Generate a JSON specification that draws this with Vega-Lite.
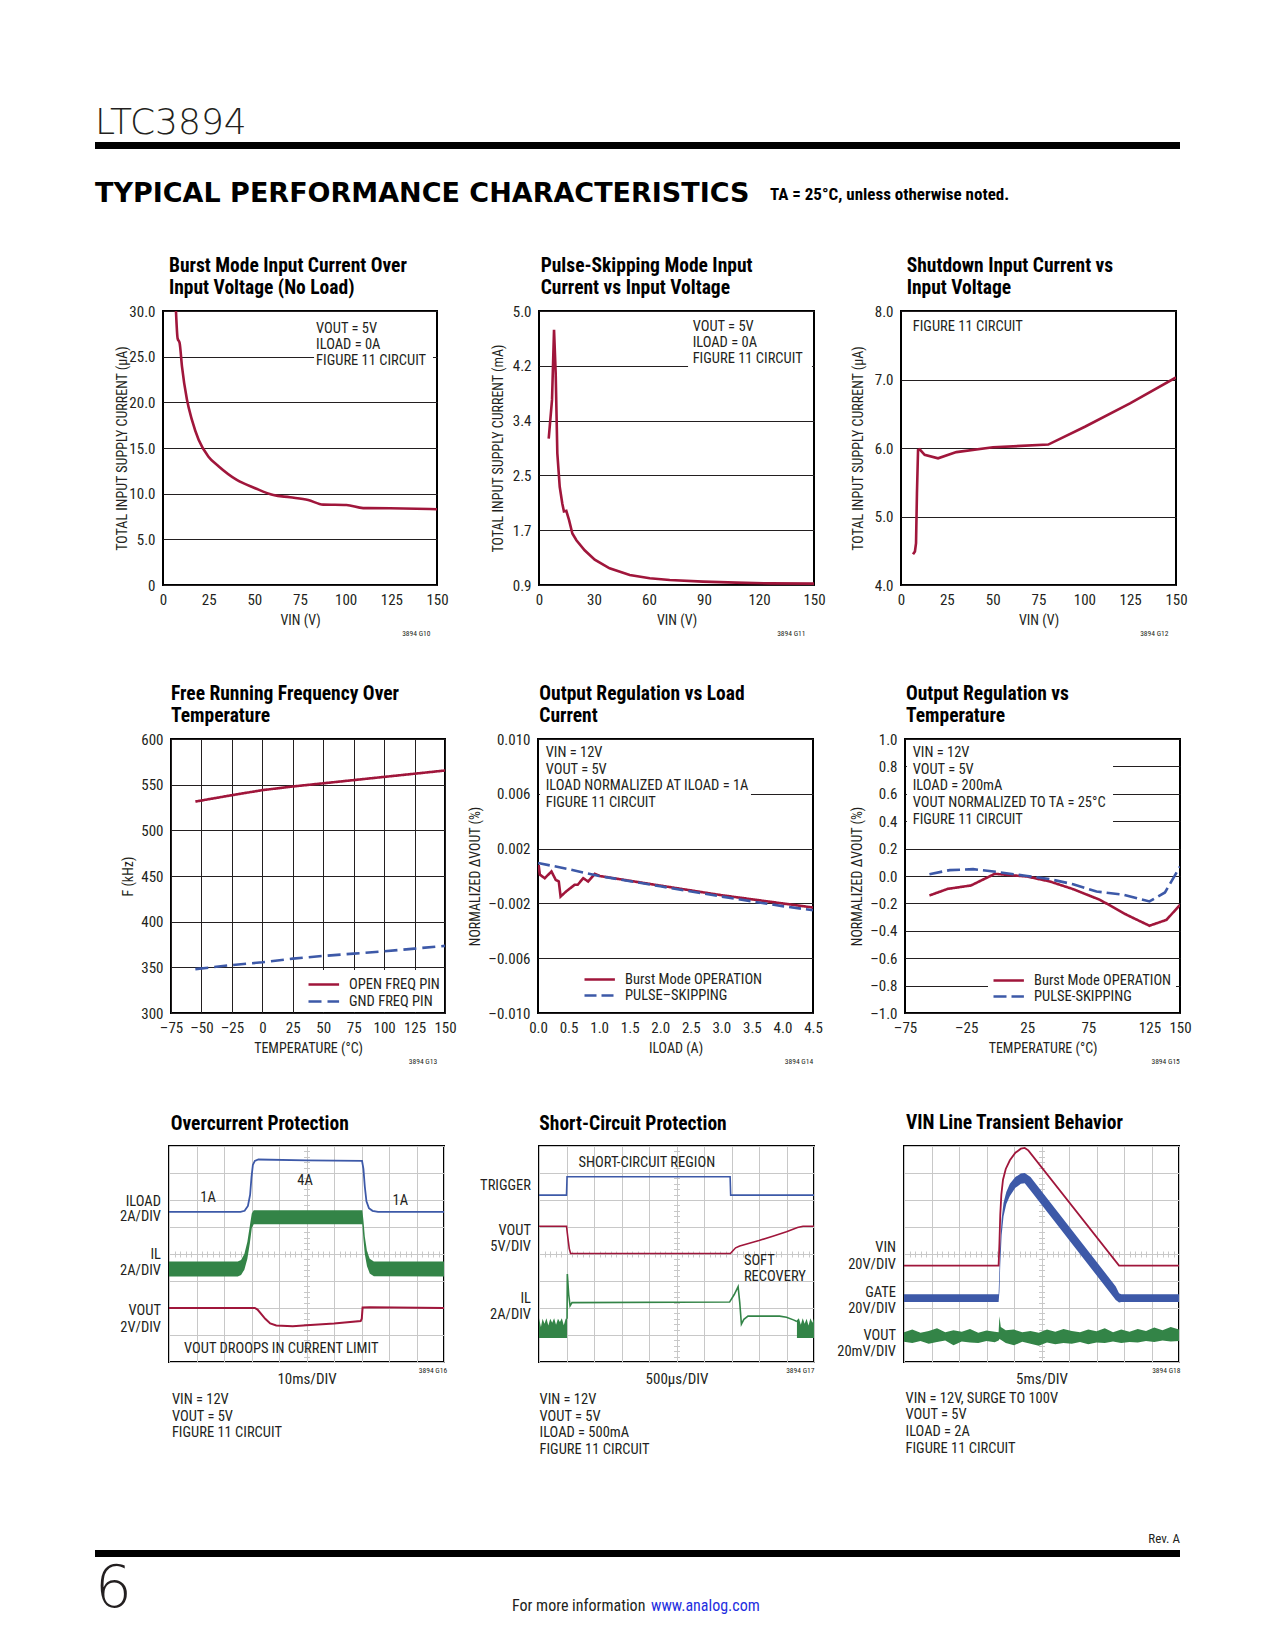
{
"$schema": "https://vega.github.io/schema/vega-lite/v6.json",
"background": "white",
"padding": {"left": 95, "top": 0, "right": 0, "bottom": 0},
"spacing": 0,
"bounds": "flush",
"resolve": {"scale": {"color": "independent", "strokeDash": "independent"}, "legend": {"color": "independent", "strokeDash": "independent"}},
"config": {
  "font": "'Liberation Sans Narrow', 'Roboto Condensed', 'DejaVu Sans Condensed', 'Liberation Sans', sans-serif",
  "view": {"stroke": "#000000", "strokeWidth": 2},
  "axis": {"labelFont": "'Liberation Sans Narrow', 'Roboto Condensed', 'DejaVu Sans Condensed', 'Liberation Sans', sans-serif", "labelFontSize": 15, "labelColor": "#231f20", "titleFont": "'Liberation Sans Narrow', 'Roboto Condensed', 'DejaVu Sans Condensed', 'Liberation Sans', sans-serif", "titleFontSize": 14, "titleFontWeight": "normal", "titleColor": "#231f20", "grid": true, "gridColor": "#231f20", "gridWidth": 1, "gridOpacity": 1, "domain": false, "ticks": false, "tickSize": 0, "labelFlush": false, "labelOverlap": false, "labelPadding": 8},
  "title": {"font": "'Liberation Sans Narrow', 'Roboto Condensed', 'DejaVu Sans Condensed', 'Liberation Sans', sans-serif", "fontSize": 19.5, "fontWeight": "bold", "color": "#000000", "anchor": "start", "frame": "group", "lineHeight": 22, "offset": 6},
  "text": {"font": "'Liberation Sans Narrow', 'Roboto Condensed', 'DejaVu Sans Condensed', 'Liberation Sans', sans-serif", "fontSize": 14.5, "color": "#231f20"},
  "legend": {"labelFont": "'Liberation Sans Narrow', 'Roboto Condensed', 'DejaVu Sans Condensed', 'Liberation Sans', sans-serif", "labelFontSize": 14.5, "labelColor": "#231f20"}
},
"vconcat": [
  {"width": 1, "height": 142, "data": {"values": []}, "mark": "text", "encoding": {}, "view": {"stroke": null}},
  {"width": 1085, "height": 7, "data": {"values": []}, "mark": "text", "encoding": {}, "view": {"fill": "#000000", "stroke": null},
   "title": {"text": "LTC3894", "font": "DejaVu Sans", "fontSize": 36, "fontWeight": 200, "offset": 0, "color": "#231f20"}},
  {"width": 1, "height": 59, "data": {"values": []}, "mark": "text", "encoding": {}, "view": {"stroke": null}},
  {"hconcat": [
    {"width": 675, "height": 1, "data": {"values": []}, "mark": "text", "encoding": {}, "view": {"stroke": null},
     "title": {"text": "TYPICAL PERFORMANCE CHARACTERISTICS", "font": "DejaVu Sans", "fontSize": 27, "fontWeight": "bold", "offset": 0, "color": "#000000"}},
    {"width": 300, "height": 1, "data": {"values": []}, "mark": "text", "encoding": {}, "view": {"stroke": null},
     "title": {"text": "TA = 25°C, unless otherwise noted.", "fontSize": 17, "fontWeight": "bold", "offset": 4, "color": "#000000"}}
  ], "spacing": 0, "bounds": "flush"},
  {"width": 1, "height": 103, "data": {"values": []}, "mark": "text", "encoding": {}, "view": {"stroke": null}},
  {"hconcat": [
    {"width": 68, "height": 1, "data": {"values": []}, "mark": "text", "encoding": {}, "view": {"stroke": null}},
    {"width": 274, "height": 274,
     "title": {"text": ["Burst Mode Input Current Over", "Input Voltage (No Load)"], "dx": 6},
     "resolve": {"axis": {"x": "independent"}},
     "layer": [
      {"data": {"values": [{}]}, "mark": {"type": "rect", "fill": "#ffffff"},
       "encoding": {"x": {"datum": 82.7, "type": "quantitative", "scale": {"domain": [0, 150], "nice": false, "zero": false}, "axis": null}, "x2": {"datum": 147.8},
                    "y": {"datum": 29.84, "type": "quantitative", "scale": {"domain": [0, 30], "nice": false, "zero": false}}, "y2": {"datum": 23.2}}},
      {"data": {"values": [
        {"v": 7.1, "i": 30}, {"v": 8.0, "i": 27.0}, {"v": 9.1, "i": 26.5}, {"v": 10.4, "i": 23.9}, {"v": 13.1, "i": 20.3}, {"v": 15.8, "i": 18.1}, {"v": 19.5, "i": 15.9}, {"v": 24.9, "i": 14.05}, {"v": 30.4, "i": 13.0}, {"v": 40.4, "i": 11.5}, {"v": 50.4, "i": 10.6}, {"v": 60.4, "i": 9.85}, {"v": 69.5, "i": 9.6}, {"v": 79.5, "i": 9.3}, {"v": 87.7, "i": 8.8}, {"v": 100.4, "i": 8.76}, {"v": 109.6, "i": 8.42}, {"v": 124.2, "i": 8.4}, {"v": 150, "i": 8.3}]},
       "mark": {"type": "line", "color": "#a0163b", "strokeWidth": 2.6, "interpolate": "monotone", "clip": true},
       "encoding": {
        "x": {"field": "v", "type": "quantitative", "scale": {"domain": [0, 150], "nice": false, "zero": false}, "axis": {"orient": "bottom", "values": [0, 25, 50, 75, 100, 125, 150], "title": "VIN (V)", "titleY": 35, "titleBaseline": "middle", "labelPadding": 7}},
        "y": {"field": "i", "type": "quantitative", "scale": {"domain": [0, 30], "nice": false, "zero": false}, "axis": {"values": [0, 5, 10, 15, 20, 25, 30], "tickCount": 50, "labelExpr": "datum.value == 0 ? '0' : format(datum.value, '.1f')", "title": "TOTAL INPUT SUPPLY CURRENT (µA)", "titleX": -41, "titleBaseline": "middle"}}}},
      {"data": {"values": [{}]}, "mark": {"type": "text", "align": "left", "baseline": "top", "lineHeight": 16},
       "encoding": {"x": {"datum": 83.8, "type": "quantitative", "scale": {"domain": [0, 150], "nice": false, "zero": false}, "axis": {"orient": "bottom", "grid": false, "labels": false, "ticks": false, "domain": false, "title": "3894 G10", "titleX": 267, "titleY": 48, "titleAlign": "right", "titleBaseline": "middle", "titleFontSize": 7.5}},
                    "y": {"datum": 28.8, "type": "quantitative", "scale": {"domain": [0, 30], "nice": false, "zero": false}},
                    "text": {"value": ["VOUT = 5V", "ILOAD = 0A", "FIGURE 11 CIRCUIT"]}}}
     ]},
    {"width": 102, "height": 1, "data": {"values": []}, "mark": "text", "encoding": {}, "view": {"stroke": null}},
    {"width": 275, "height": 274,
     "title": {"text": ["Pulse-Skipping Mode Input", "Current vs Input Voltage"], "dx": 1.7},
     "resolve": {"axis": {"x": "independent"}},
     "layer": [
      {"data": {"values": [{}]}, "mark": {"type": "rect", "fill": "#ffffff"},
       "encoding": {"x": {"datum": 81.3, "type": "quantitative", "scale": {"domain": [0, 150], "nice": false, "zero": false}, "axis": null}, "x2": {"datum": 148.9},
                    "y": {"datum": 4.978, "type": "quantitative", "scale": {"domain": [0.9, 5], "nice": false, "zero": false}}, "y2": {"datum": 4.107}}},
      {"data": {"values": [
        {"v": 5.3, "i": 3.09}, {"v": 7.1, "i": 3.67}, {"v": 8.2, "i": 4.72}, {"v": 9.1, "i": 4.07}, {"v": 10.0, "i": 2.87}, {"v": 11.3, "i": 2.37}, {"v": 12.7, "i": 2.12}, {"v": 13.6, "i": 2.0}, {"v": 14.9, "i": 2.01}, {"v": 16.4, "i": 1.87}, {"v": 18.2, "i": 1.67}, {"v": 20.4, "i": 1.57}, {"v": 24.9, "i": 1.42}, {"v": 30.4, "i": 1.28}, {"v": 38.5, "i": 1.15}, {"v": 49.5, "i": 1.05}, {"v": 60.4, "i": 1.0}, {"v": 71.3, "i": 0.975}, {"v": 89.5, "i": 0.95}, {"v": 107.6, "i": 0.935}, {"v": 125.8, "i": 0.925}, {"v": 150, "i": 0.92}]},
       "mark": {"type": "line", "color": "#a0163b", "strokeWidth": 2.6, "clip": true},
       "encoding": {
        "x": {"field": "v", "type": "quantitative", "scale": {"domain": [0, 150], "nice": false, "zero": false}, "axis": {"orient": "bottom", "values": [0, 30, 60, 90, 120, 150], "title": "VIN (V)", "titleY": 35, "titleBaseline": "middle", "labelPadding": 7}},
        "y": {"field": "i", "type": "quantitative", "scale": {"domain": [0.9, 5], "nice": false, "zero": false}, "axis": {"values": [0.9, 1.72, 2.54, 3.36, 4.18, 5.0], "tickCount": 50, "labelExpr": "format(datum.value, '.1f')", "title": "TOTAL INPUT SUPPLY CURRENT (mA)", "titleX": -41, "titleBaseline": "middle"}}}},
      {"data": {"values": [{}]}, "mark": {"type": "text", "align": "left", "baseline": "top", "lineHeight": 16},
       "encoding": {"x": {"datum": 83.8, "type": "quantitative", "scale": {"domain": [0, 150], "nice": false, "zero": false}, "axis": {"orient": "bottom", "grid": false, "labels": false, "ticks": false, "domain": false, "title": "3894 G11", "titleX": 266, "titleY": 48, "titleAlign": "right", "titleBaseline": "middle", "titleFontSize": 7.5}},
                    "y": {"datum": 4.865, "type": "quantitative", "scale": {"domain": [0.9, 5], "nice": false, "zero": false}},
                    "text": {"value": ["VOUT = 5V", "ILOAD = 0A", "FIGURE 11 CIRCUIT"]}}}
     ]},
    {"width": 87, "height": 1, "data": {"values": []}, "mark": "text", "encoding": {}, "view": {"stroke": null}},
    {"width": 275, "height": 274,
     "title": {"text": ["Shutdown Input Current vs", "Input Voltage"], "dx": 5.7},
     "resolve": {"axis": {"x": "independent"}},
     "layer": [
      {"data": {"values": [{}]}, "mark": {"type": "rect", "fill": "#ffffff"},
       "encoding": {"x": {"datum": 1.1, "type": "quantitative", "scale": {"domain": [0, 150], "nice": false, "zero": false}, "axis": null}, "x2": {"datum": 72},
                    "y": {"datum": 7.978, "type": "quantitative", "scale": {"domain": [4, 8], "nice": false, "zero": false}}, "y2": {"datum": 7.562}}},
      {"data": {"values": [
        {"v": 6.55, "i": 4.45}, {"v": 7.6, "i": 4.49}, {"v": 8.2, "i": 4.61}, {"v": 8.7, "i": 5.34}, {"v": 9.3, "i": 5.97}, {"v": 10.2, "i": 5.98}, {"v": 12.9, "i": 5.9}, {"v": 20.2, "i": 5.85}, {"v": 30.2, "i": 5.94}, {"v": 50.2, "i": 6.01}, {"v": 80.3, "i": 6.05}, {"v": 100.3, "i": 6.31}, {"v": 124.9, "i": 6.65}, {"v": 150, "i": 7.03}]},
       "mark": {"type": "line", "color": "#a0163b", "strokeWidth": 2.6, "clip": true},
       "encoding": {
        "x": {"field": "v", "type": "quantitative", "scale": {"domain": [0, 150], "nice": false, "zero": false}, "axis": {"orient": "bottom", "values": [0, 25, 50, 75, 100, 125, 150], "title": "VIN (V)", "titleY": 35, "titleBaseline": "middle", "labelPadding": 7}},
        "y": {"field": "i", "type": "quantitative", "scale": {"domain": [4, 8], "nice": false, "zero": false}, "axis": {"values": [4, 5, 6, 7, 8], "tickCount": 50, "labelExpr": "format(datum.value, '.1f')", "title": "TOTAL INPUT SUPPLY CURRENT (µA)", "titleX": -43, "titleBaseline": "middle"}}}},
      {"data": {"values": [{}]}, "mark": {"type": "text", "align": "left", "baseline": "top", "lineHeight": 16},
       "encoding": {"x": {"datum": 6.4, "type": "quantitative", "scale": {"domain": [0, 150], "nice": false, "zero": false}, "axis": {"orient": "bottom", "grid": false, "labels": false, "ticks": false, "domain": false, "title": "3894 G12", "titleX": 267, "titleY": 48, "titleAlign": "right", "titleBaseline": "middle", "titleFontSize": 7.5}},
                    "y": {"datum": 7.869, "type": "quantitative", "scale": {"domain": [4, 8], "nice": false, "zero": false}},
                    "text": {"value": "FIGURE 11 CIRCUIT"}}}
     ]}
  ], "spacing": 0, "bounds": "flush", "resolve": {"scale": {"color": "independent", "strokeDash": "independent"}, "legend": {"color": "independent", "strokeDash": "independent"}}},
  {"width": 1, "height": 428, "data": {"values": []}, "mark": "text", "encoding": {}, "view": {"stroke": null}},
  {"hconcat": [
    {"width": 76, "height": 1, "data": {"values": []}, "mark": "text", "encoding": {}, "view": {"stroke": null}},
    {"width": 274, "height": 274,
     "title": {"text": ["Free Running Frequency Over", "Temperature"], "dx": 0},
     "resolve": {"axis": {"x": "independent"}},
     "layer": [
      {"data": {"values": [
        {"t": -55, "f": 531.5, "s": "OPEN FREQ PIN"}, {"t": -25, "f": 538.5, "s": "OPEN FREQ PIN"}, {"t": 0, "f": 544, "s": "OPEN FREQ PIN"}, {"t": 25, "f": 548, "s": "OPEN FREQ PIN"}, {"t": 50, "f": 551.5, "s": "OPEN FREQ PIN"}, {"t": 75, "f": 555, "s": "OPEN FREQ PIN"}, {"t": 100, "f": 558.5, "s": "OPEN FREQ PIN"}, {"t": 125, "f": 562, "s": "OPEN FREQ PIN"}, {"t": 150, "f": 565.5, "s": "OPEN FREQ PIN"},
        {"t": -55, "f": 348, "s": "GND FREQ PIN"}, {"t": -25, "f": 352.5, "s": "GND FREQ PIN"}, {"t": 0, "f": 355.5, "s": "GND FREQ PIN"}, {"t": 25, "f": 359.5, "s": "GND FREQ PIN"}, {"t": 50, "f": 362.5, "s": "GND FREQ PIN"}, {"t": 75, "f": 365, "s": "GND FREQ PIN"}, {"t": 100, "f": 367.5, "s": "GND FREQ PIN"}, {"t": 125, "f": 370.5, "s": "GND FREQ PIN"}, {"t": 150, "f": 373.5, "s": "GND FREQ PIN"}]},
       "mark": {"type": "line", "strokeWidth": 2.6, "clip": true},
       "encoding": {
        "x": {"field": "t", "type": "quantitative", "scale": {"domain": [-75, 150], "nice": false, "zero": false}, "axis": {"orient": "bottom", "values": [-75, -50, -25, 0, 25, 50, 75, 100, 125, 150], "tickCount": 50, "labelExpr": "datum.value < 0 ? '–' + format(-datum.value, 'd') : format(datum.value, 'd')", "title": "TEMPERATURE (°C)", "titleY": 35.3, "titleBaseline": "middle", "labelPadding": 7}},
        "y": {"field": "f", "type": "quantitative", "scale": {"domain": [300, 600], "nice": false, "zero": false}, "axis": {"values": [300, 350, 400, 450, 500, 550, 600], "tickCount": 50, "labelExpr": "format(datum.value, 'd')", "title": "F (kHz)", "titleX": -43, "titleBaseline": "middle"}},
        "color": {"field": "s", "type": "nominal", "scale": {"domain": ["OPEN FREQ PIN", "GND FREQ PIN"], "range": ["#a0163b", "#3d59a8"]},
                  "legend": {"orient": "none", "legendX": 132, "legendY": 231, "title": null, "fillColor": "#ffffff", "padding": 4, "symbolType": "M-1,0H2.4", "symbolSize": 324, "symbolStrokeWidth": 2.6, "labelOffset": 21, "rowPadding": 0, "labelLimit": 0}},
        "strokeDash": {"field": "s", "type": "nominal", "scale": {"domain": ["OPEN FREQ PIN", "GND FREQ PIN"], "range": [[1, 0], [13, 6]]},
                  "legend": {"orient": "none", "legendX": 132, "legendY": 231, "title": null, "fillColor": "#ffffff", "padding": 4, "symbolType": "M-1,0H2.4", "symbolSize": 324, "symbolStrokeWidth": 2.6, "labelOffset": 21, "rowPadding": 0, "labelLimit": 0}}}},
      {"data": {"values": [{}]}, "mark": {"type": "text"},
       "encoding": {"x": {"datum": 0, "type": "quantitative", "scale": {"domain": [-75, 150], "nice": false, "zero": false}, "axis": {"orient": "bottom", "grid": false, "labels": false, "ticks": false, "domain": false, "title": "3894 G13", "titleX": 265.7, "titleY": 48.7, "titleAlign": "right", "titleBaseline": "middle", "titleFontSize": 7.5}},
                    "y": {"datum": 450, "type": "quantitative", "scale": {"domain": [300, 600], "nice": false, "zero": false}},
                    "text": {"value": ""}}}
     ]},
    {"width": 93, "height": 1, "data": {"values": []}, "mark": "text", "encoding": {}, "view": {"stroke": null}},
    {"width": 275, "height": 274,
     "title": {"text": ["Output Regulation vs Load", "Current"], "dx": 1.3},
     "resolve": {"axis": {"x": "independent"}},
     "layer": [
      {"data": {"values": [{}]}, "mark": {"type": "rect", "fill": "#ffffff"},
       "encoding": {"x": {"datum": 0.033, "type": "quantitative", "scale": {"domain": [0, 4.5], "nice": false, "zero": false}, "axis": null}, "x2": {"datum": 3.485},
                    "y": {"datum": 0.0099, "type": "quantitative", "scale": {"domain": [-0.01, 0.01], "nice": false, "zero": false}}, "y2": {"datum": 0.00482}}},
      {"data": {"values": [
        {"x": 0.01, "y": 0.0008, "s": "Burst Mode OPERATION"}, {"x": 0.03, "y": 0.0001, "s": "Burst Mode OPERATION"}, {"x": 0.11, "y": -0.00016, "s": "Burst Mode OPERATION"}, {"x": 0.22, "y": 0.00033, "s": "Burst Mode OPERATION"}, {"x": 0.29, "y": -0.00028, "s": "Burst Mode OPERATION"}, {"x": 0.34, "y": -0.0004, "s": "Burst Mode OPERATION"}, {"x": 0.37, "y": -0.0015, "s": "Burst Mode OPERATION"}, {"x": 0.46, "y": -0.00113, "s": "Burst Mode OPERATION"}, {"x": 0.6, "y": -0.00064, "s": "Burst Mode OPERATION"}, {"x": 0.65, "y": -0.00064, "s": "Burst Mode OPERATION"}, {"x": 0.74, "y": -0.00016, "s": "Burst Mode OPERATION"}, {"x": 0.82, "y": -0.0004, "s": "Burst Mode OPERATION"}, {"x": 0.93, "y": 0.00016, "s": "Burst Mode OPERATION"}, {"x": 1.01, "y": 0.0, "s": "Burst Mode OPERATION"}, {"x": 2.0, "y": -0.0007, "s": "Burst Mode OPERATION"}, {"x": 3.0, "y": -0.0014, "s": "Burst Mode OPERATION"}, {"x": 4.0, "y": -0.002, "s": "Burst Mode OPERATION"}, {"x": 4.5, "y": -0.0023, "s": "Burst Mode OPERATION"},
        {"x": 0.0, "y": 0.00095, "s": "PULSE–SKIPPING"}, {"x": 0.5, "y": 0.0005, "s": "PULSE–SKIPPING"}, {"x": 1.0, "y": 0.0, "s": "PULSE–SKIPPING"}, {"x": 2.0, "y": -0.00075, "s": "PULSE–SKIPPING"}, {"x": 3.0, "y": -0.0015, "s": "PULSE–SKIPPING"}, {"x": 4.0, "y": -0.0022, "s": "PULSE–SKIPPING"}, {"x": 4.5, "y": -0.0025, "s": "PULSE–SKIPPING"}]},
       "mark": {"type": "line", "strokeWidth": 2.6, "clip": true},
       "encoding": {
        "x": {"field": "x", "type": "quantitative", "scale": {"domain": [0, 4.5], "nice": false, "zero": false}, "axis": {"orient": "bottom", "values": [0, 0.5, 1, 1.5, 2, 2.5, 3, 3.5, 4, 4.5], "tickCount": 50, "labelExpr": "format(datum.value, '.1f')", "title": "ILOAD (A)", "titleY": 35.3, "titleBaseline": "middle", "labelPadding": 7}},
        "y": {"field": "y", "type": "quantitative", "scale": {"domain": [-0.01, 0.01], "nice": false, "zero": false}, "axis": {"values": [-0.01, -0.006, -0.002, 0.002, 0.006, 0.01], "tickCount": 50, "labelExpr": "datum.value < 0 ? '–' + format(-datum.value, '.3f') : format(datum.value, '.3f')", "title": "NORMALIZED ΔVOUT (%)", "titleX": -63, "titleBaseline": "middle"}},
        "color": {"field": "s", "type": "nominal", "scale": {"domain": ["Burst Mode OPERATION", "PULSE–SKIPPING"], "range": ["#a0163b", "#3d59a8"]},
                  "legend": {"orient": "none", "legendX": 41, "legendY": 227, "title": null, "fillColor": "#ffffff", "padding": 4, "symbolType": "M-1,0H2.8", "symbolSize": 256, "symbolStrokeWidth": 2.6, "labelOffset": 23, "rowPadding": 0, "labelLimit": 0}},
        "strokeDash": {"field": "s", "type": "nominal", "scale": {"domain": ["Burst Mode OPERATION", "PULSE–SKIPPING"], "range": [[1, 0], [12, 5]]},
                  "legend": {"orient": "none", "legendX": 41, "legendY": 227, "title": null, "fillColor": "#ffffff", "padding": 4, "symbolType": "M-1,0H2.8", "symbolSize": 256, "symbolStrokeWidth": 2.6, "labelOffset": 23, "rowPadding": 0, "labelLimit": 0}}}},
      {"data": {"values": [{}]}, "mark": {"type": "text", "align": "left", "baseline": "top", "lineHeight": 16.7},
       "encoding": {"x": {"datum": 0.126, "type": "quantitative", "scale": {"domain": [0, 4.5], "nice": false, "zero": false}, "axis": {"orient": "bottom", "grid": false, "labels": false, "ticks": false, "domain": false, "title": "3894 G14", "titleX": 274.7, "titleY": 48.7, "titleAlign": "right", "titleBaseline": "middle", "titleFontSize": 7.5}},
                    "y": {"datum": 0.00949, "type": "quantitative", "scale": {"domain": [-0.01, 0.01], "nice": false, "zero": false}},
                    "text": {"value": ["VIN = 12V", "VOUT = 5V", "ILOAD NORMALIZED AT ILOAD = 1A", "FIGURE 11 CIRCUIT"]}}}
     ]},
    {"width": 92, "height": 1, "data": {"values": []}, "mark": "text", "encoding": {}, "view": {"stroke": null}},
    {"width": 275, "height": 274,
     "title": {"text": ["Output Regulation vs", "Temperature"], "dx": 1},
     "resolve": {"axis": {"x": "independent"}},
     "layer": [
      {"data": {"values": [{}]}, "mark": {"type": "rect", "fill": "#ffffff"},
       "encoding": {"x": {"datum": -73.4, "type": "quantitative", "scale": {"domain": [-75, 150], "nice": false, "zero": false}, "axis": null}, "x2": {"datum": 95.2},
                    "y": {"datum": 0.989, "type": "quantitative", "scale": {"domain": [-1, 1], "nice": false, "zero": false}}, "y2": {"datum": 0.358}}},
      {"data": {"values": [
        {"x": -55, "y": -0.142, "s": "Burst Mode OPERATION"}, {"x": -40, "y": -0.094, "s": "Burst Mode OPERATION"}, {"x": -21, "y": -0.069, "s": "Burst Mode OPERATION"}, {"x": -1.5, "y": 0.016, "s": "Burst Mode OPERATION"}, {"x": 25, "y": -0.004, "s": "Burst Mode OPERATION"}, {"x": 43.5, "y": -0.04, "s": "Burst Mode OPERATION"}, {"x": 62.6, "y": -0.096, "s": "Burst Mode OPERATION"}, {"x": 84.5, "y": -0.174, "s": "Burst Mode OPERATION"}, {"x": 106.3, "y": -0.283, "s": "Burst Mode OPERATION"}, {"x": 125, "y": -0.363, "s": "Burst Mode OPERATION"}, {"x": 139, "y": -0.32, "s": "Burst Mode OPERATION"}, {"x": 150, "y": -0.21, "s": "Burst Mode OPERATION"},
        {"x": -55, "y": 0.013, "s": "PULSE-SKIPPING"}, {"x": -38.4, "y": 0.043, "s": "PULSE-SKIPPING"}, {"x": -19.3, "y": 0.05, "s": "PULSE-SKIPPING"}, {"x": -0.2, "y": 0.03, "s": "PULSE-SKIPPING"}, {"x": 25, "y": 0.0, "s": "PULSE-SKIPPING"}, {"x": 43.5, "y": -0.023, "s": "PULSE-SKIPPING"}, {"x": 62.6, "y": -0.06, "s": "PULSE-SKIPPING"}, {"x": 81.7, "y": -0.113, "s": "PULSE-SKIPPING"}, {"x": 103.6, "y": -0.137, "s": "PULSE-SKIPPING"}, {"x": 125, "y": -0.186, "s": "PULSE-SKIPPING"}, {"x": 137.7, "y": -0.12, "s": "PULSE-SKIPPING"}, {"x": 150, "y": 0.069, "s": "PULSE-SKIPPING"}]},
       "mark": {"type": "line", "strokeWidth": 2.6, "clip": true},
       "encoding": {
        "x": {"field": "x", "type": "quantitative", "scale": {"domain": [-75, 150], "nice": false, "zero": false}, "axis": {"orient": "bottom", "values": [-75, -25, 25, 75, 125, 150], "tickCount": 50, "labelExpr": "datum.value < 0 ? '–' + format(-datum.value, 'd') : format(datum.value, 'd')", "title": "TEMPERATURE (°C)", "titleY": 35.3, "titleBaseline": "middle", "labelPadding": 7}},
        "y": {"field": "y", "type": "quantitative", "scale": {"domain": [-1, 1], "nice": false, "zero": false}, "axis": {"values": [-1, -0.8, -0.6, -0.4, -0.2, 0, 0.2, 0.4, 0.6, 0.8, 1], "tickCount": 50, "labelExpr": "datum.value < -0.001 ? '–' + format(-datum.value, '.1f') : format(abs(datum.value), '.1f')", "title": "NORMALIZED ΔVOUT (%)", "titleX": -48, "titleBaseline": "middle"}},
        "color": {"field": "s", "type": "nominal", "scale": {"domain": ["Burst Mode OPERATION", "PULSE-SKIPPING"], "range": ["#a0163b", "#3d59a8"]},
                  "legend": {"orient": "none", "legendX": 83, "legendY": 228, "title": null, "fillColor": "#ffffff", "padding": 4, "symbolType": "M-1,0H2.8", "symbolSize": 256, "symbolStrokeWidth": 2.6, "labelOffset": 23, "rowPadding": 0, "labelLimit": 0}},
        "strokeDash": {"field": "s", "type": "nominal", "scale": {"domain": ["Burst Mode OPERATION", "PULSE-SKIPPING"], "range": [[1, 0], [13, 5]]},
                  "legend": {"orient": "none", "legendX": 83, "legendY": 228, "title": null, "fillColor": "#ffffff", "padding": 4, "symbolType": "M-1,0H2.8", "symbolSize": 256, "symbolStrokeWidth": 2.6, "labelOffset": 23, "rowPadding": 0, "labelLimit": 0}}}},
      {"data": {"values": [{}]}, "mark": {"type": "text", "align": "left", "baseline": "top", "lineHeight": 16.75},
       "encoding": {"x": {"datum": -68.7, "type": "quantitative", "scale": {"domain": [-75, 150], "nice": false, "zero": false}, "axis": {"orient": "bottom", "grid": false, "labels": false, "ticks": false, "domain": false, "title": "3894 G15", "titleX": 274.3, "titleY": 48.7, "titleAlign": "right", "titleBaseline": "middle", "titleFontSize": 7.5}},
                    "y": {"datum": 0.949, "type": "quantitative", "scale": {"domain": [-1, 1], "nice": false, "zero": false}},
                    "text": {"value": ["VIN = 12V", "VOUT = 5V", "ILOAD = 200mA", "VOUT NORMALIZED TO TA = 25°C", "FIGURE 11 CIRCUIT"]}}}
     ]}
  ], "spacing": 0, "bounds": "flush", "resolve": {"scale": {"color": "independent", "strokeDash": "independent"}, "legend": {"color": "independent", "strokeDash": "independent"}}},
  {"width": 1, "height": 407, "data": {"values": []}, "mark": "text", "encoding": {}, "view": {"stroke": null}},
  {"hconcat": [
    {"width": 74, "height": 1, "data": {"values": []}, "mark": "text", "encoding": {}, "view": {"stroke": null}},
    {"width": 275, "height": 216,
     "title": {"text": "Overcurrent Protection", "offset": 11.2, "dx": 1.7},
     "resolve": {"axis": {"x": "independent", "y": "independent"}},
     "layer": [
      {"data": {"values": [
        {"t": 0, "hi": 3.72, "lo": 3.17}, {"t": 2.5, "hi": 3.72, "lo": 3.17}, {"t": 2.62, "hi": 3.78, "lo": 3.22}, {"t": 2.74, "hi": 4.0, "lo": 3.42}, {"t": 2.85, "hi": 4.45, "lo": 3.82}, {"t": 2.94, "hi": 5.05, "lo": 4.4}, {"t": 3.01, "hi": 5.5, "lo": 4.95}, {"t": 3.08, "hi": 5.62, "lo": 5.1}, {"t": 7.03, "hi": 5.62, "lo": 5.1}, {"t": 7.07, "hi": 5.25, "lo": 4.55}, {"t": 7.12, "hi": 4.65, "lo": 4.0}, {"t": 7.2, "hi": 4.1, "lo": 3.55}, {"t": 7.3, "hi": 3.82, "lo": 3.28}, {"t": 7.45, "hi": 3.72, "lo": 3.18}, {"t": 10, "hi": 3.72, "lo": 3.17}]},
       "mark": {"type": "area", "color": "#338447", "opacity": 1},
       "encoding": {
        "x": {"field": "t", "type": "quantitative", "scale": {"domain": [0, 10], "nice": false, "zero": false}, "axis": {"orient": "bottom", "values": [0, 1, 2, 3, 4, 5, 6, 7, 8, 9, 10], "tickCount": 50, "grid": true, "gridColor": "#c8c8c8", "labels": false, "ticks": false, "domain": false, "title": "10ms/DIV", "titleY": 16.3, "titleBaseline": "middle", "titleFontSize": 15}},
        "y": {"field": "hi", "type": "quantitative", "scale": {"domain": [0, 8], "nice": false, "zero": false}, "axis": {"orient": "left", "values": [0, 1, 2, 3, 4, 5, 6, 7, 8], "tickCount": 50, "grid": true, "gridColor": "#c8c8c8", "labels": false, "ticks": false, "domain": false, "title": null}},
        "y2": {"field": "lo"}}},
      {"data": {"values": [
        {"t": 0, "v": 5.56}, {"t": 2.6, "v": 5.56}, {"t": 2.75, "v": 5.6}, {"t": 2.87, "v": 5.78}, {"t": 2.95, "v": 6.2}, {"t": 3.0, "v": 6.85}, {"t": 3.05, "v": 7.3}, {"t": 3.12, "v": 7.45}, {"t": 3.25, "v": 7.5}, {"t": 5.0, "v": 7.47}, {"t": 7.02, "v": 7.45}, {"t": 7.07, "v": 7.15}, {"t": 7.12, "v": 6.5}, {"t": 7.18, "v": 5.95}, {"t": 7.27, "v": 5.7}, {"t": 7.4, "v": 5.6}, {"t": 7.6, "v": 5.56}, {"t": 10, "v": 5.56}]},
       "mark": {"type": "line", "color": "#3d59a8", "strokeWidth": 1.8},
       "encoding": {
        "x": {"field": "t", "type": "quantitative", "scale": {"domain": [0, 10], "nice": false, "zero": false}, "axis": {"orient": "bottom", "offset": -111, "values": [0.2, 0.4, 0.6, 0.8, 1.2, 1.4, 1.6, 1.8, 2.2, 2.4, 2.6, 2.8, 3.2, 3.4, 3.6, 3.8, 4.2, 4.4, 4.6, 4.8, 5.2, 5.4, 5.6, 5.8, 6.2, 6.4, 6.6, 6.8, 7.2, 7.4, 7.6, 7.8, 8.2, 8.4, 8.6, 8.8, 9.2, 9.4, 9.6, 9.8], "tickCount": 100, "grid": false, "labels": false, "ticks": true, "tickSize": 6, "tickColor": "#c8c8c8", "tickWidth": 1, "domain": false, "title": null}},
        "y": {"field": "v", "type": "quantitative", "scale": {"domain": [0, 8], "nice": false, "zero": false}, "axis": {"orient": "left", "offset": -140.5, "values": [0.2, 0.4, 0.6, 0.8, 1.2, 1.4, 1.6, 1.8, 2.2, 2.4, 2.6, 2.8, 3.2, 3.4, 3.6, 3.8, 4.2, 4.4, 4.6, 4.8, 5.2, 5.4, 5.6, 5.8, 6.2, 6.4, 6.6, 6.8, 7.2, 7.4, 7.6, 7.8], "tickCount": 100, "grid": false, "labels": false, "ticks": true, "tickSize": 6, "tickColor": "#c8c8c8", "tickWidth": 1, "domain": false, "title": null}}}},
      {"data": {"values": [
        {"t": 0, "v": 2.0}, {"t": 3.12, "v": 2.0}, {"t": 3.22, "v": 1.94}, {"t": 3.35, "v": 1.78}, {"t": 3.5, "v": 1.6}, {"t": 3.68, "v": 1.43}, {"t": 3.9, "v": 1.35}, {"t": 4.5, "v": 1.32}, {"t": 5.0, "v": 1.36}, {"t": 6.0, "v": 1.43}, {"t": 6.97, "v": 1.52}, {"t": 7.01, "v": 1.6}, {"t": 7.04, "v": 2.02}, {"t": 7.3, "v": 2.03}, {"t": 10, "v": 2.0}]},
       "mark": {"type": "line", "color": "#a0163b", "strokeWidth": 2},
       "encoding": {
        "x": {"field": "t", "type": "quantitative", "scale": {"domain": [0, 10], "nice": false, "zero": false}, "axis": {"orient": "bottom", "grid": false, "labels": false, "ticks": false, "domain": false, "title": "3894 G16", "titleX": 277.7, "titleY": 8.7, "titleAlign": "right", "titleBaseline": "middle", "titleFontSize": 7.5}},
        "y": {"field": "v", "type": "quantitative", "scale": {"domain": [0, 8], "nice": false, "zero": false}, "axis": null}}},
      {"data": {"values": [{}]}, "mark": {"type": "text", "align": "right", "baseline": "top", "dx": -8, "lineHeight": 15},
       "encoding": {"x": {"datum": 0, "type": "quantitative", "scale": {"domain": [0, 10], "nice": false, "zero": false}, "axis": {"orient": "bottom", "grid": false, "labels": false, "ticks": false, "domain": false, "title": ["VIN = 12V", "VOUT = 5V", "FIGURE 11 CIRCUIT"], "titleX": 2.4, "titleY": 30.5, "titleAlign": "left", "titleBaseline": "top", "titleFontSize": 14.5, "titleLineHeight": 16.5}},
                    "y": {"datum": 6.2, "type": "quantitative", "scale": {"domain": [0, 8], "nice": false, "zero": false}, "axis": null},
                    "text": {"value": ["ILOAD", "2A/DIV"]}}},
      {"data": {"values": [{}]}, "mark": {"type": "text", "align": "right", "baseline": "top", "dx": -8, "lineHeight": 16},
       "encoding": {"x": {"datum": 0, "type": "quantitative", "scale": {"domain": [0, 10], "nice": false, "zero": false}, "axis": null},
                    "y": {"datum": 4.21, "type": "quantitative", "scale": {"domain": [0, 8], "nice": false, "zero": false}, "axis": null},
                    "text": {"value": ["IL", "2A/DIV"]}}},
      {"data": {"values": [{}]}, "mark": {"type": "text", "align": "right", "baseline": "top", "dx": -8, "lineHeight": 16.5},
       "encoding": {"x": {"datum": 0, "type": "quantitative", "scale": {"domain": [0, 10], "nice": false, "zero": false}, "axis": null},
                    "y": {"datum": 2.14, "type": "quantitative", "scale": {"domain": [0, 8], "nice": false, "zero": false}, "axis": null},
                    "text": {"value": ["VOUT", "2V/DIV"]}}},
      {"data": {"values": [{}]}, "mark": {"type": "text", "align": "center", "baseline": "top"},
       "encoding": {"x": {"datum": 1.42, "type": "quantitative", "scale": {"domain": [0, 10], "nice": false, "zero": false}, "axis": null},
                    "y": {"datum": 6.33, "type": "quantitative", "scale": {"domain": [0, 8], "nice": false, "zero": false}, "axis": null},
                    "text": {"value": "1A"}}},
      {"data": {"values": [{}]}, "mark": {"type": "text", "align": "center", "baseline": "top"},
       "encoding": {"x": {"datum": 4.95, "type": "quantitative", "scale": {"domain": [0, 10], "nice": false, "zero": false}, "axis": null},
                    "y": {"datum": 6.98, "type": "quantitative", "scale": {"domain": [0, 8], "nice": false, "zero": false}, "axis": null},
                    "text": {"value": "4A"}}},
      {"data": {"values": [{}]}, "mark": {"type": "text", "align": "center", "baseline": "top"},
       "encoding": {"x": {"datum": 8.41, "type": "quantitative", "scale": {"domain": [0, 10], "nice": false, "zero": false}, "axis": null},
                    "y": {"datum": 6.24, "type": "quantitative", "scale": {"domain": [0, 8], "nice": false, "zero": false}, "axis": null},
                    "text": {"value": "1A"}}},
      {"data": {"values": [{}]}, "mark": {"type": "text", "align": "left", "baseline": "top"},
       "encoding": {"x": {"datum": 0.545, "type": "quantitative", "scale": {"domain": [0, 10], "nice": false, "zero": false}, "axis": null},
                    "y": {"datum": 0.73, "type": "quantitative", "scale": {"domain": [0, 8], "nice": false, "zero": false}, "axis": null},
                    "text": {"value": "VOUT DROOPS IN CURRENT LIMIT"}}}
     ]},
    {"width": 95, "height": 1, "data": {"values": []}, "mark": "text", "encoding": {}, "view": {"stroke": null}},
    {"width": 275, "height": 216,
     "title": {"text": "Short-Circuit Protection", "offset": 11.2, "dx": 0.3},
     "resolve": {"axis": {"x": "independent", "y": "independent"}},
     "layer": [
      {"data": {"values": [
        {"seg": "a", "t": 0, "hi": 1.62, "lo": 0.89}, {"seg": "a", "t": 0.07, "hi": 1.3, "lo": 0.89}, {"seg": "a", "t": 0.13, "hi": 1.6, "lo": 0.89}, {"seg": "a", "t": 0.2, "hi": 1.42, "lo": 0.89}, {"seg": "a", "t": 0.27, "hi": 1.62, "lo": 0.89}, {"seg": "a", "t": 0.34, "hi": 1.35, "lo": 0.89}, {"seg": "a", "t": 0.41, "hi": 1.6, "lo": 0.89}, {"seg": "a", "t": 0.48, "hi": 1.45, "lo": 0.89}, {"seg": "a", "t": 0.55, "hi": 1.62, "lo": 0.89}, {"seg": "a", "t": 0.62, "hi": 1.38, "lo": 0.89}, {"seg": "a", "t": 0.69, "hi": 1.6, "lo": 0.89}, {"seg": "a", "t": 0.76, "hi": 1.48, "lo": 0.89}, {"seg": "a", "t": 0.83, "hi": 1.62, "lo": 0.89}, {"seg": "a", "t": 0.9, "hi": 1.36, "lo": 0.89}, {"seg": "a", "t": 0.97, "hi": 1.6, "lo": 0.89}, {"seg": "a", "t": 1.02, "hi": 1.62, "lo": 0.89},
        {"seg": "b", "t": 9.38, "hi": 1.55, "lo": 0.89}, {"seg": "b", "t": 9.45, "hi": 1.62, "lo": 0.89}, {"seg": "b", "t": 9.52, "hi": 1.38, "lo": 0.89}, {"seg": "b", "t": 9.59, "hi": 1.62, "lo": 0.89}, {"seg": "b", "t": 9.66, "hi": 1.42, "lo": 0.89}, {"seg": "b", "t": 9.73, "hi": 1.6, "lo": 0.89}, {"seg": "b", "t": 9.8, "hi": 1.35, "lo": 0.89}, {"seg": "b", "t": 9.87, "hi": 1.62, "lo": 0.89}, {"seg": "b", "t": 9.94, "hi": 1.45, "lo": 0.89}, {"seg": "b", "t": 10, "hi": 1.6, "lo": 0.89}]},
       "mark": {"type": "area", "color": "#338447", "opacity": 1},
       "encoding": {
        "x": {"field": "t", "type": "quantitative", "scale": {"domain": [0, 10], "nice": false, "zero": false}, "axis": {"orient": "bottom", "values": [0, 1, 2, 3, 4, 5, 6, 7, 8, 9, 10], "tickCount": 50, "grid": true, "gridColor": "#c8c8c8", "labels": false, "ticks": false, "domain": false, "title": "500µs/DIV", "titleY": 16.3, "titleBaseline": "middle", "titleFontSize": 15}},
        "y": {"field": "hi", "type": "quantitative", "scale": {"domain": [0, 8], "nice": false, "zero": false}, "axis": {"orient": "left", "values": [0, 1, 2, 3, 4, 5, 6, 7, 8], "tickCount": 50, "grid": true, "gridColor": "#c8c8c8", "labels": false, "ticks": false, "domain": false, "title": null}},
        "y2": {"field": "lo"},
        "detail": {"field": "seg"}}},
      {"data": {"values": [
        {"t": 0, "v": 6.18}, {"t": 1.0, "v": 6.18}, {"t": 1.02, "v": 6.86}, {"t": 6.95, "v": 6.86}, {"t": 6.97, "v": 6.18}, {"t": 10, "v": 6.18}]},
       "mark": {"type": "line", "color": "#3d59a8", "strokeWidth": 1.6},
       "encoding": {
        "x": {"field": "t", "type": "quantitative", "scale": {"domain": [0, 10], "nice": false, "zero": false}, "axis": {"orient": "bottom", "offset": -111, "values": [0.2, 0.4, 0.6, 0.8, 1.2, 1.4, 1.6, 1.8, 2.2, 2.4, 2.6, 2.8, 3.2, 3.4, 3.6, 3.8, 4.2, 4.4, 4.6, 4.8, 5.2, 5.4, 5.6, 5.8, 6.2, 6.4, 6.6, 6.8, 7.2, 7.4, 7.6, 7.8, 8.2, 8.4, 8.6, 8.8, 9.2, 9.4, 9.6, 9.8], "tickCount": 100, "grid": false, "labels": false, "ticks": true, "tickSize": 6, "tickColor": "#c8c8c8", "tickWidth": 1, "domain": false, "title": null}},
        "y": {"field": "v", "type": "quantitative", "scale": {"domain": [0, 8], "nice": false, "zero": false}, "axis": {"orient": "left", "offset": -140.5, "values": [0.2, 0.4, 0.6, 0.8, 1.2, 1.4, 1.6, 1.8, 2.2, 2.4, 2.6, 2.8, 3.2, 3.4, 3.6, 3.8, 4.2, 4.4, 4.6, 4.8, 5.2, 5.4, 5.6, 5.8, 6.2, 6.4, 6.6, 6.8, 7.2, 7.4, 7.6, 7.8], "tickCount": 100, "grid": false, "labels": false, "ticks": true, "tickSize": 6, "tickColor": "#c8c8c8", "tickWidth": 1, "domain": false, "title": null}}}},
      {"data": {"values": [
        {"t": 0, "v": 5.03}, {"t": 1.0, "v": 5.03}, {"t": 1.05, "v": 4.6}, {"t": 1.1, "v": 4.2}, {"t": 1.15, "v": 4.02}, {"t": 6.96, "v": 4.02}, {"t": 7.05, "v": 4.12}, {"t": 7.15, "v": 4.23}, {"t": 7.3, "v": 4.3}, {"t": 8.0, "v": 4.5}, {"t": 8.5, "v": 4.66}, {"t": 9.0, "v": 4.82}, {"t": 9.4, "v": 4.98}, {"t": 9.6, "v": 5.03}, {"t": 10, "v": 5.03}]},
       "mark": {"type": "line", "color": "#a0163b", "strokeWidth": 1.6},
       "encoding": {
        "x": {"field": "t", "type": "quantitative", "scale": {"domain": [0, 10], "nice": false, "zero": false}, "axis": {"orient": "bottom", "grid": false, "labels": false, "ticks": false, "domain": false, "title": "3894 G17", "titleX": 275, "titleY": 8.7, "titleAlign": "right", "titleBaseline": "middle", "titleFontSize": 7.5}},
        "y": {"field": "v", "type": "quantitative", "scale": {"domain": [0, 8], "nice": false, "zero": false}, "axis": null}}},
      {"data": {"values": [
        {"t": 1.02, "v": 1.6}, {"t": 1.03, "v": 3.26}, {"t": 1.08, "v": 2.5}, {"t": 1.13, "v": 2.08}, {"t": 1.2, "v": 2.2}, {"t": 6.93, "v": 2.22}, {"t": 7.1, "v": 2.5}, {"t": 7.24, "v": 2.79}, {"t": 7.3, "v": 2.2}, {"t": 7.36, "v": 1.4}, {"t": 7.45, "v": 1.58}, {"t": 7.6, "v": 1.7}, {"t": 8.75, "v": 1.7}, {"t": 9.0, "v": 1.66}, {"t": 9.25, "v": 1.56}, {"t": 9.38, "v": 1.5}]},
       "mark": {"type": "line", "color": "#338447", "strokeWidth": 1.6},
       "encoding": {
        "x": {"field": "t", "type": "quantitative", "scale": {"domain": [0, 10], "nice": false, "zero": false}, "axis": {"orient": "bottom", "grid": false, "labels": false, "ticks": false, "domain": false, "title": ["VIN = 12V", "VOUT = 5V", "ILOAD = 500mA", "FIGURE 11 CIRCUIT"], "titleX": 0, "titleY": 30.5, "titleAlign": "left", "titleBaseline": "top", "titleFontSize": 14.5, "titleLineHeight": 16.5}},
        "y": {"field": "v", "type": "quantitative", "scale": {"domain": [0, 8], "nice": false, "zero": false}, "axis": null}}},
      {"data": {"values": [{}]}, "mark": {"type": "text", "align": "right", "baseline": "top", "dx": -8},
       "encoding": {"x": {"datum": 0, "type": "quantitative", "scale": {"domain": [0, 10], "nice": false, "zero": false}, "axis": null},
                    "y": {"datum": 6.76, "type": "quantitative", "scale": {"domain": [0, 8], "nice": false, "zero": false}, "axis": null},
                    "text": {"value": "TRIGGER"}}},
      {"data": {"values": [{}]}, "mark": {"type": "text", "align": "right", "baseline": "top", "dx": -8, "lineHeight": 16},
       "encoding": {"x": {"datum": 0, "type": "quantitative", "scale": {"domain": [0, 10], "nice": false, "zero": false}, "axis": null},
                    "y": {"datum": 5.1, "type": "quantitative", "scale": {"domain": [0, 8], "nice": false, "zero": false}, "axis": null},
                    "text": {"value": ["VOUT", "5V/DIV"]}}},
      {"data": {"values": [{}]}, "mark": {"type": "text", "align": "right", "baseline": "top", "dx": -8, "lineHeight": 16},
       "encoding": {"x": {"datum": 0, "type": "quantitative", "scale": {"domain": [0, 10], "nice": false, "zero": false}, "axis": null},
                    "y": {"datum": 2.6, "type": "quantitative", "scale": {"domain": [0, 8], "nice": false, "zero": false}, "axis": null},
                    "text": {"value": ["IL", "2A/DIV"]}}},
      {"data": {"values": [{}]}, "mark": {"type": "text", "align": "left", "baseline": "top"},
       "encoding": {"x": {"datum": 1.44, "type": "quantitative", "scale": {"domain": [0, 10], "nice": false, "zero": false}, "axis": null},
                    "y": {"datum": 7.62, "type": "quantitative", "scale": {"domain": [0, 8], "nice": false, "zero": false}, "axis": null},
                    "text": {"value": "SHORT-CIRCUIT REGION"}}},
      {"data": {"values": [{}]}, "mark": {"type": "text", "align": "left", "baseline": "top", "lineHeight": 16.7},
       "encoding": {"x": {"datum": 7.45, "type": "quantitative", "scale": {"domain": [0, 10], "nice": false, "zero": false}, "axis": null},
                    "y": {"datum": 4.01, "type": "quantitative", "scale": {"domain": [0, 8], "nice": false, "zero": false}, "axis": null},
                    "text": {"value": ["SOFT", "RECOVERY"]}}}
     ]},
    {"width": 90, "height": 1, "data": {"values": []}, "mark": "text", "encoding": {}, "view": {"stroke": null}},
    {"width": 275, "height": 216,
     "title": {"text": "VIN Line Transient Behavior", "offset": 11.2, "dx": 2},
     "resolve": {"axis": {"x": "independent", "y": "independent"}},
     "layer": [
      {"data": {"values": [
        {"t": 0, "hi": 1.1, "lo": 0.75}, {"t": 0.3, "hi": 1.2, "lo": 0.7}, {"t": 0.6, "hi": 1.08, "lo": 0.78}, {"t": 0.9, "hi": 1.15, "lo": 0.68}, {"t": 1.2, "hi": 1.25, "lo": 0.74}, {"t": 1.5, "hi": 1.1, "lo": 0.8}, {"t": 1.8, "hi": 1.18, "lo": 0.62}, {"t": 2.1, "hi": 1.12, "lo": 0.76}, {"t": 2.4, "hi": 1.22, "lo": 0.72}, {"t": 2.7, "hi": 1.08, "lo": 0.7}, {"t": 3.0, "hi": 1.17, "lo": 0.78}, {"t": 3.3, "hi": 1.12, "lo": 0.73}, {"t": 3.44, "hi": 1.1, "lo": 0.8}, {"t": 3.47, "hi": 1.69, "lo": 0.85}, {"t": 3.52, "hi": 1.3, "lo": 0.82}, {"t": 3.7, "hi": 1.18, "lo": 0.7}, {"t": 4.0, "hi": 1.2, "lo": 0.62}, {"t": 4.3, "hi": 1.1, "lo": 0.75}, {"t": 4.6, "hi": 1.15, "lo": 0.68}, {"t": 4.9, "hi": 1.08, "lo": 0.6}, {"t": 5.2, "hi": 1.2, "lo": 0.72}, {"t": 5.5, "hi": 1.12, "lo": 0.66}, {"t": 5.8, "hi": 1.22, "lo": 0.7}, {"t": 6.1, "hi": 1.15, "lo": 0.68}, {"t": 6.4, "hi": 1.1, "lo": 0.74}, {"t": 6.7, "hi": 1.2, "lo": 0.66}, {"t": 7.0, "hi": 1.14, "lo": 0.72}, {"t": 7.3, "hi": 1.25, "lo": 0.7}, {"t": 7.6, "hi": 1.1, "lo": 0.76}, {"t": 7.9, "hi": 1.2, "lo": 0.7}, {"t": 8.2, "hi": 1.12, "lo": 0.74}, {"t": 8.5, "hi": 1.22, "lo": 0.72}, {"t": 8.8, "hi": 1.15, "lo": 0.78}, {"t": 9.1, "hi": 1.28, "lo": 0.74}, {"t": 9.4, "hi": 1.18, "lo": 0.8}, {"t": 9.7, "hi": 1.3, "lo": 0.76}, {"t": 10, "hi": 1.2, "lo": 0.78}]},
       "mark": {"type": "area", "color": "#338447", "opacity": 1},
       "encoding": {
        "x": {"field": "t", "type": "quantitative", "scale": {"domain": [0, 10], "nice": false, "zero": false}, "axis": {"orient": "bottom", "values": [0, 1, 2, 3, 4, 5, 6, 7, 8, 9, 10], "tickCount": 50, "grid": true, "gridColor": "#c8c8c8", "labels": false, "ticks": false, "domain": false, "title": "5ms/DIV", "titleY": 16.3, "titleBaseline": "middle", "titleFontSize": 15}},
        "y": {"field": "hi", "type": "quantitative", "scale": {"domain": [0, 8], "nice": false, "zero": false}, "axis": {"orient": "left", "values": [0, 1, 2, 3, 4, 5, 6, 7, 8], "tickCount": 50, "grid": true, "gridColor": "#c8c8c8", "labels": false, "ticks": false, "domain": false, "title": null}},
        "y2": {"field": "lo"}}},
      {"data": {"values": [
        {"t": 0, "hi": 2.51, "lo": 2.22}, {"t": 3.44, "hi": 2.51, "lo": 2.22}, {"t": 3.47, "hi": 3.4, "lo": 2.6}, {"t": 3.5, "hi": 4.4, "lo": 3.6}, {"t": 3.55, "hi": 5.3, "lo": 4.7}, {"t": 3.62, "hi": 5.9, "lo": 5.4}, {"t": 3.72, "hi": 6.3, "lo": 5.85}, {"t": 3.85, "hi": 6.6, "lo": 6.15}, {"t": 4.05, "hi": 6.85, "lo": 6.45}, {"t": 4.25, "hi": 6.98, "lo": 6.6}, {"t": 4.39, "hi": 7.0, "lo": 6.62}, {"t": 4.6, "hi": 6.85, "lo": 6.35}, {"t": 7.7, "hi": 2.8, "lo": 2.3}, {"t": 7.82, "hi": 2.55, "lo": 2.2}, {"t": 7.9, "hi": 2.51, "lo": 2.22}, {"t": 10, "hi": 2.51, "lo": 2.22}]},
       "mark": {"type": "area", "color": "#3d59a8", "opacity": 1},
       "encoding": {
        "x": {"field": "t", "type": "quantitative", "scale": {"domain": [0, 10], "nice": false, "zero": false}, "axis": {"orient": "bottom", "offset": -111, "values": [0.2, 0.4, 0.6, 0.8, 1.2, 1.4, 1.6, 1.8, 2.2, 2.4, 2.6, 2.8, 3.2, 3.4, 3.6, 3.8, 4.2, 4.4, 4.6, 4.8, 5.2, 5.4, 5.6, 5.8, 6.2, 6.4, 6.6, 6.8, 7.2, 7.4, 7.6, 7.8, 8.2, 8.4, 8.6, 8.8, 9.2, 9.4, 9.6, 9.8], "tickCount": 100, "grid": false, "labels": false, "ticks": true, "tickSize": 6, "tickColor": "#c8c8c8", "tickWidth": 1, "domain": false, "title": null}},
        "y": {"field": "hi", "type": "quantitative", "scale": {"domain": [0, 8], "nice": false, "zero": false}, "axis": {"orient": "left", "offset": -140.5, "values": [0.2, 0.4, 0.6, 0.8, 1.2, 1.4, 1.6, 1.8, 2.2, 2.4, 2.6, 2.8, 3.2, 3.4, 3.6, 3.8, 4.2, 4.4, 4.6, 4.8, 5.2, 5.4, 5.6, 5.8, 6.2, 6.4, 6.6, 6.8, 7.2, 7.4, 7.6, 7.8], "tickCount": 100, "grid": false, "labels": false, "ticks": true, "tickSize": 6, "tickColor": "#c8c8c8", "tickWidth": 1, "domain": false, "title": null}},
        "y2": {"field": "lo"}}},
      {"data": {"values": [
        {"t": 0, "v": 3.57}, {"t": 3.44, "v": 3.57}, {"t": 3.47, "v": 4.4}, {"t": 3.5, "v": 5.45}, {"t": 3.54, "v": 6.2}, {"t": 3.6, "v": 6.75}, {"t": 3.7, "v": 7.15}, {"t": 3.85, "v": 7.47}, {"t": 4.05, "v": 7.75}, {"t": 4.25, "v": 7.9}, {"t": 4.39, "v": 7.93}, {"t": 4.52, "v": 7.84}, {"t": 7.82, "v": 3.57}, {"t": 10, "v": 3.57}]},
       "mark": {"type": "line", "color": "#a0163b", "strokeWidth": 1.8},
       "encoding": {
        "x": {"field": "t", "type": "quantitative", "scale": {"domain": [0, 10], "nice": false, "zero": false}, "axis": {"orient": "bottom", "grid": false, "labels": false, "ticks": false, "domain": false, "title": "3894 G18", "titleX": 276, "titleY": 8.7, "titleAlign": "right", "titleBaseline": "middle", "titleFontSize": 7.5}},
        "y": {"field": "v", "type": "quantitative", "scale": {"domain": [0, 8], "nice": false, "zero": false}, "axis": null}}},
      {"data": {"values": [{}]}, "mark": {"type": "text", "align": "right", "baseline": "top", "dx": -8, "lineHeight": 16.5},
       "encoding": {"x": {"datum": 0, "type": "quantitative", "scale": {"domain": [0, 10], "nice": false, "zero": false}, "axis": {"orient": "bottom", "grid": false, "labels": false, "ticks": false, "domain": false, "title": ["VIN = 12V, SURGE TO 100V", "VOUT = 5V", "ILOAD = 2A", "FIGURE 11 CIRCUIT"], "titleX": 1, "titleY": 29.2, "titleAlign": "left", "titleBaseline": "top", "titleFontSize": 14.5, "titleLineHeight": 16.7}},
                    "y": {"datum": 4.48, "type": "quantitative", "scale": {"domain": [0, 8], "nice": false, "zero": false}, "axis": null},
                    "text": {"value": ["VIN", "20V/DIV"]}}},
      {"data": {"values": [{}]}, "mark": {"type": "text", "align": "right", "baseline": "top", "dx": -8, "lineHeight": 16},
       "encoding": {"x": {"datum": 0, "type": "quantitative", "scale": {"domain": [0, 10], "nice": false, "zero": false}, "axis": null},
                    "y": {"datum": 2.82, "type": "quantitative", "scale": {"domain": [0, 8], "nice": false, "zero": false}, "axis": null},
                    "text": {"value": ["GATE", "20V/DIV"]}}},
      {"data": {"values": [{}]}, "mark": {"type": "text", "align": "right", "baseline": "top", "dx": -8, "lineHeight": 16},
       "encoding": {"x": {"datum": 0, "type": "quantitative", "scale": {"domain": [0, 10], "nice": false, "zero": false}, "axis": null},
                    "y": {"datum": 1.22, "type": "quantitative", "scale": {"domain": [0, 8], "nice": false, "zero": false}, "axis": null},
                    "text": {"value": ["VOUT", "20mV/DIV"]}}}
     ]}
  ], "spacing": 0, "bounds": "flush"},
  {"width": 1, "height": 404, "data": {"values": []}, "mark": "text", "encoding": {}, "view": {"stroke": null}},
  {"width": 1085, "height": 7, "data": {"values": []}, "mark": "text", "encoding": {}, "view": {"fill": "#000000", "stroke": null},
   "title": {"text": "Rev. A", "fontSize": 13, "fontWeight": "normal", "anchor": "end", "offset": 4, "color": "#231f20"}},
  {"width": 1, "height": 63, "data": {"values": []}, "mark": "text", "encoding": {}, "view": {"stroke": null}},
  {"hconcat": [
    {"width": 417, "height": 1, "data": {"values": []}, "mark": "text", "encoding": {}, "view": {"stroke": null},
     "title": {"text": "6", "font": "DejaVu Sans", "fontSize": 58, "fontWeight": 200, "offset": 1, "color": "#231f20"}},
    {"width": 139, "height": 1, "data": {"values": []}, "mark": "text", "encoding": {}, "view": {"stroke": null},
     "title": {"text": "For more information", "fontSize": 16, "fontWeight": "normal", "offset": 6, "color": "#231f20"}},
    {"width": 130, "height": 1, "data": {"values": []}, "mark": "text", "encoding": {}, "view": {"stroke": null},
     "title": {"text": "www.analog.com", "fontSize": 16, "fontWeight": "normal", "offset": 6, "color": "#1f2fe0"}}
  ], "spacing": 0, "bounds": "flush"}
]
}
